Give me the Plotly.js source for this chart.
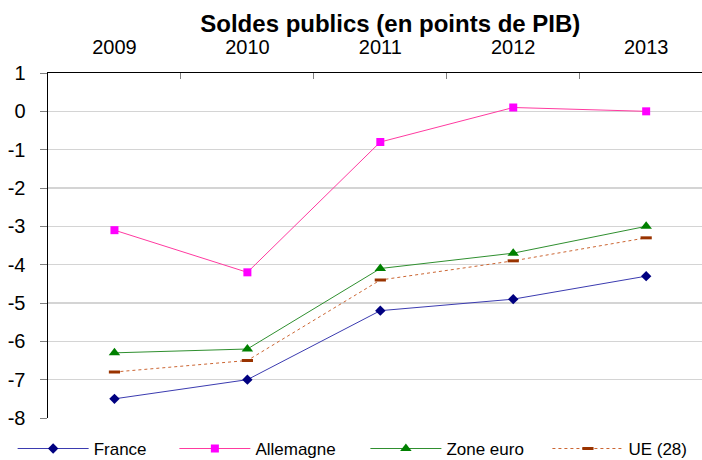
<!DOCTYPE html>
<html>
<head>
<meta charset="utf-8">
<script src="https://cdn.plot.ly/plotly-3.0.1.min.js"></script>
<style>html,body{margin:0;padding:0;background:#fff;}</style>
</head>
<body>
<div id="chart" style="width:702px;height:460px;"></div>
<script>
const years = ['2009', '2010', '2011', '2012', '2013'];
const france = [-7.5, -7.0, -5.2, -4.9, -4.3];
const allemagne = [-3.1, -4.2, -0.8, 0.1, 0.0];
const zoneEuro = [-6.3, -6.2, -4.1, -3.7, -3.0];
const ue28 = [-6.8, -6.5, -4.4, -3.9, -3.3];
const yTicks = [1, 0, -1, -2, -3, -4, -5, -6, -7, -8];

const traces = [
  {name: 'France', x: years, y: france, mode: 'lines+markers', type: 'scatter', legend: 'legend',
   line: {color: '#3b3bb0', width: 1},
   marker: {symbol: 'diamond', size: 8, color: '#000080'}},
  {name: 'Allemagne', x: years, y: allemagne, mode: 'lines+markers', type: 'scatter', legend: 'legend2',
   line: {color: '#ff3aa0', width: 1},
   marker: {symbol: 'square', size: 8, color: '#ff00ff'}},
  {name: 'Zone euro', x: years, y: zoneEuro, mode: 'lines+markers', type: 'scatter', legend: 'legend3',
   line: {color: '#2f8f2f', width: 1},
   marker: {symbol: 'triangle-up', size: 10, color: '#008000'}},
  {name: 'UE (28)', x: years, y: ue28, mode: 'lines+markers', type: 'scatter', legend: 'legend4',
   line: {color: '#cc6633', width: 1, dash: 'dot'},
   marker: {symbol: 'line-ew', size: 8, color: '#993300', line: {color: '#993300', width: 3}}}
];

function leg(x) {
  return {orientation: 'h', xref: 'container', yref: 'container', x: x, xanchor: 'left',
          y: 0.024, yanchor: 'middle', font: {size: 17}, itemwidth: 71,
          bgcolor: 'rgba(0,0,0,0)'};
}

const layout = {
  width: 702, height: 460,
  paper_bgcolor: '#ffffff', plot_bgcolor: '#ffffff',
  font: {family: 'Liberation Sans, Arial, sans-serif', color: '#000000'},
  margin: {l: 48, r: 0, t: 73, b: 42},
  title: {text: '<b>Soldes publics (en points de PIB)</b>', font: {size: 24, color: '#000'},
          xref: 'container', x: 0.556, xanchor: 'center', yref: 'container', y: 0.948, yanchor: 'middle'},
  xaxis: {type: 'category', side: 'top', range: [-0.5, 4.42],
          showline: true, linecolor: '#000000', linewidth: 1.5,
          ticks: 'inside', tickson: 'boundaries', ticklen: 6, tickcolor: '#808080', tickwidth: 1,
          showgrid: false, zeroline: false, tickfont: {size: 20}, ticklabelstandoff: 10},
  yaxis: {range: [-8, 1], tickvals: yTicks, ticktext: yTicks.map(String),
          showline: true, linecolor: '#000000', linewidth: 1.5,
          ticks: 'outside', ticklen: 7, tickcolor: '#808080', tickwidth: 1,
          showgrid: true, gridcolor: '#d4d4d4', gridwidth: 1.5, zeroline: false,
          tickfont: {size: 20}, ticklabelstandoff: 10},
  showlegend: true,
  legend: leg(0.018),
  legend2: leg(0.2484),
  legend3: leg(0.5205),
  legend4: leg(0.7798)
};

Plotly.newPlot('chart', traces, layout, {displayModeBar: false, staticPlot: true});
</script>
</body>
</html>
